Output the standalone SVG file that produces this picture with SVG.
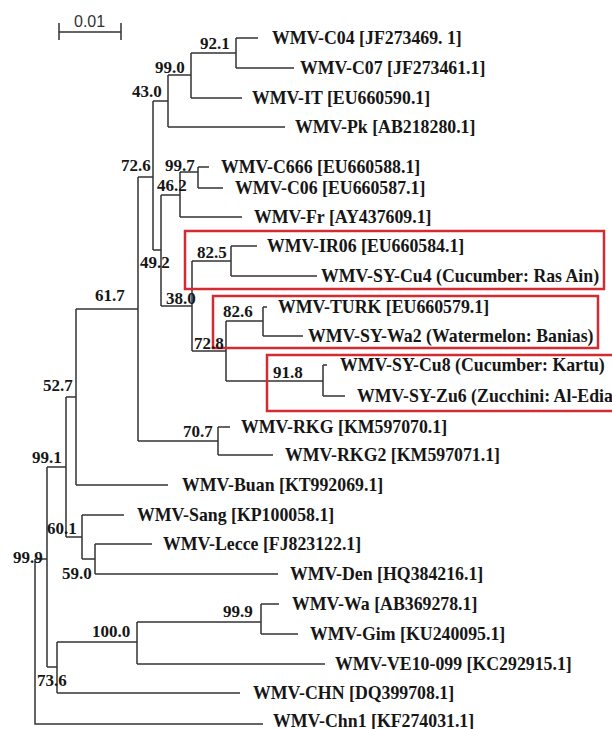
<svg xmlns="http://www.w3.org/2000/svg" width="612" height="729" viewBox="0 0 612 729">
<style>
.t{font-family:"Liberation Serif","Times New Roman",serif;font-weight:bold;font-size:17.8px;fill:#161616}
.b{font-family:"Liberation Serif","Times New Roman",serif;font-weight:bold;font-size:17px;fill:#161616}
.e{fill:none;stroke:#333;stroke-width:1.5}
.box{fill:none;stroke:#d42a32;stroke-width:2.5}
.s{font-family:"Liberation Sans",Arial,sans-serif;font-size:16px;fill:#333}
</style>
<rect width="612" height="729" fill="#fff"/>
<g id="scale">
<path class="e" d="M59 32H121M59 23V40M121 23V40"/>
<text class="s" x="74" y="27">0.01</text>
</g>
<g id="connectors" class="e">
<path d="M35 559V724H263M35 559H47"/>
<path d="M47 467V667M47 467H66M47 667H57"/>
<path d="M66 397V537M66 397H76M66 537H82"/>
<path d="M76 309V485M76 309H138M76 485H168"/>
<path d="M138 177V441M138 177H153M138 441H218"/>
<path d="M153 101V250M153 101H168M153 250H161"/>
<path d="M168 75V127M168 75H191M168 127H285"/>
<path d="M191 53V98M191 53H236M191 98H242"/>
<path d="M236 38V68M236 38H258M236 68H294"/>
<path d="M161 195V306M161 195H180M161 306H192"/>
<path d="M180 172V217M180 172H198M180 217H242"/>
<path d="M198 167V188M198 167H209M198 188H223"/>
<path d="M192 261V351M192 261H231M192 351H226"/>
<path d="M231 246V276M231 246H257M231 276H317"/>
<path d="M226 321V381M226 321H263M226 381H323"/>
<path d="M263 307V336M263 307H267M263 336H303"/>
<path d="M323 365V396M323 365H327M323 396H345"/>
<path d="M218 427V455M218 427H230M218 455H273"/>
<path d="M82 515V559M82 515H124M82 559H95"/>
<path d="M95 544V574M95 544H152M95 574H278"/>
<path d="M57 642V693M57 642H137M57 693H240"/>
<path d="M137 622V664M137 622H261M137 664H325"/>
<path d="M261 604V634M261 604H279M261 634H298"/>
</g>
<g id="highlights">
<rect class="box" x="185" y="231" width="419" height="58"/>
<rect class="box" x="213" y="296" width="385" height="52"/>
<rect class="box" x="267" y="355" width="360" height="56"/>
</g>
<g id="leaf-C04"><text class="t" x="272" y="44">WMV-C04 [JF273469. 1]</text></g>
<g id="leaf-C07"><text class="t" x="300" y="74">WMV-C07 [JF273461.1]</text></g>
<g id="leaf-IT"><text class="t" x="252" y="104">WMV-IT [EU660590.1]</text></g>
<g id="leaf-Pk"><text class="t" x="295" y="133">WMV-Pk [AB218280.1]</text></g>
<g id="leaf-C666"><text class="t" x="221" y="173">WMV-C666 [EU660588.1]</text></g>
<g id="leaf-C06"><text class="t" x="235" y="194">WMV-C06 [EU660587.1]</text></g>
<g id="leaf-Fr"><text class="t" x="254" y="223">WMV-Fr [AY437609.1]</text></g>
<g id="leaf-IR06"><text class="t" x="267" y="252">WMV-IR06 [EU660584.1]</text></g>
<g id="leaf-Cu4"><text class="t" x="321" y="282">WMV-SY-Cu4 (Cucumber: Ras Ain)</text></g>
<g id="leaf-TURK"><text class="t" x="278" y="313">WMV-TURK [EU660579.1]</text></g>
<g id="leaf-Wa2"><text class="t" x="308" y="342">WMV-SY-Wa2 (Watermelon: Banias)</text></g>
<g id="leaf-Cu8"><text class="t" x="340" y="371">WMV-SY-Cu8 (Cucumber: Kartu)</text></g>
<g id="leaf-Zu6"><text class="t" x="357" y="402">WMV-SY-Zu6 (Zucchini: Al-Edia</text></g>
<g id="leaf-RKG"><text class="t" x="241" y="433">WMV-RKG [KM597070.1]</text></g>
<g id="leaf-RKG2"><text class="t" x="285" y="461">WMV-RKG2 [KM597071.1]</text></g>
<g id="leaf-Buan"><text class="t" x="182" y="491">WMV-Buan [KT992069.1]</text></g>
<g id="leaf-Sang"><text class="t" x="137" y="521">WMV-Sang [KP100058.1]</text></g>
<g id="leaf-Lecce"><text class="t" x="163" y="550">WMV-Lecce [FJ823122.1]</text></g>
<g id="leaf-Den"><text class="t" x="290" y="580">WMV-Den [HQ384216.1]</text></g>
<g id="leaf-Wa"><text class="t" x="292" y="610">WMV-Wa [AB369278.1]</text></g>
<g id="leaf-Gim"><text class="t" x="310" y="640">WMV-Gim [KU240095.1]</text></g>
<g id="leaf-VE10"><text class="t" x="335" y="670">WMV-VE10-099 [KC292915.1]</text></g>
<g id="leaf-CHN"><text class="t" x="253" y="699">WMV-CHN [DQ399708.1]</text></g>
<g id="leaf-Chn1"><text class="t" x="273" y="727">WMV-Chn1 [KF274031.1]</text></g>
<g id="bootstrap">
<g id="n92-1"><text class="b" x="200" y="49">92.1</text></g>
<g id="n99-0"><text class="b" x="155" y="73">99.0</text></g>
<g id="n43-0"><text class="b" x="132" y="97">43.0</text></g>
<g id="n72-6"><text class="b" x="121" y="171">72.6</text></g>
<g id="n99-7"><text class="b" x="165" y="171">99.7</text></g>
<g id="n46-2"><text class="b" x="157" y="191">46.2</text></g>
<g id="n49-2"><text class="b" x="140" y="268">49.2</text></g>
<g id="n82-5"><text class="b" x="197" y="258">82.5</text></g>
<g id="n38-0"><text class="b" x="166" y="304">38.0</text></g>
<g id="n82-6"><text class="b" x="223" y="317">82.6</text></g>
<g id="n72-8"><text class="b" x="194" y="349">72.8</text></g>
<g id="n91-8"><text class="b" x="273" y="378">91.8</text></g>
<g id="n61-7"><text class="b" x="95" y="301">61.7</text></g>
<g id="n70-7"><text class="b" x="183" y="437">70.7</text></g>
<g id="n52-7"><text class="b" x="43" y="391">52.7</text></g>
<g id="n99-1"><text class="b" x="32" y="463">99.1</text></g>
<g id="n60-1"><text class="b" x="47" y="534">60.1</text></g>
<g id="n59-0"><text class="b" x="62" y="579">59.0</text></g>
<g id="n99-9a"><text class="b" x="13" y="563">99.9</text></g>
<g id="n100-0"><text class="b" x="92" y="637">100.0</text></g>
<g id="n99-9b"><text class="b" x="223" y="617">99.9</text></g>
<g id="n73-6"><text class="b" x="37" y="686">73.6</text></g>
</g>
</svg>
